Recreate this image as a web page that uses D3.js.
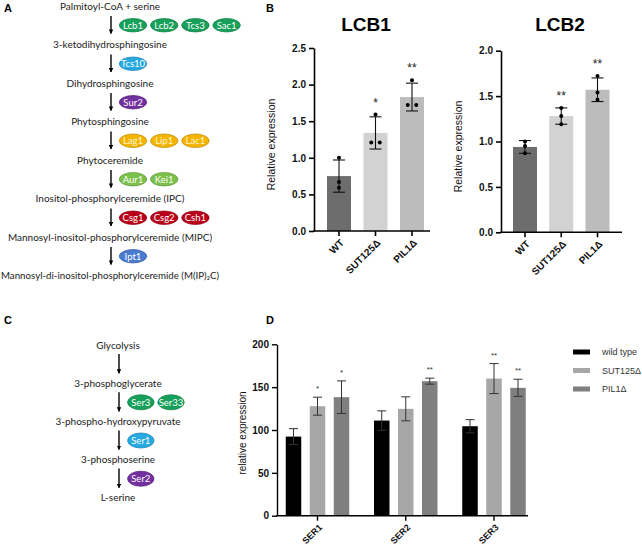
<!DOCTYPE html>
<html><head><meta charset="utf-8">
<script src="https://cdn.jsdelivr.net/npm/d3@7"></script>
<style>
body{margin:0;background:#fff;}
svg{display:block;}
</style></head>
<body>
<svg id="c" width="642" height="549"></svg>
<script>
// ---------- DATA ----------
// Panel A: sphingolipid pathway
const pathA = ["Palmitoyl-CoA + serine","3-ketodihydrosphingosine","Dihydrosphingosine","Phytosphingosine","Phytoceremide","Inositol-phosphorylceremide (IPC)","Mannosyl-inositol-phosphorylceremide (MIPC)","Mannosyl-di-inositol-phosphorylceremide (M(IP)₂C)"];
const enzymesA = [["Lcb1","Lcb2","Tcs3","Sac1"],["Tcs10"],["Sur2"],["Lag1","Lip1","Lac1"],["Aur1","Kei1"],["Csg1","Csg2","Csh1"],["Ipt1"]];
// Panel C: serine pathway
const pathC = ["Glycolysis","3-phosphoglycerate","3-phospho-hydroxypyruvate","3-phosphoserine","L-serine"];
const enzymesC = [[],["Ser3","Ser33"],["Ser1"],["Ser2"]];
// Panel B
const strains = ["WT","SUT125Δ","PIL1Δ"];
const lcb1Mean = [0.75, 1.34, 1.83];
const lcb1Sd = [0.22, 0.22, 0.19];
const lcb1Points = [[1.00,0.67,0.59],[1.59,1.21,1.21],[2.06,1.72,1.72]];
const lcb1Sig = ["","*","**"];
const lcb1Ticks = [0,0.5,1.0,1.5,2.0,2.5];
const lcb2Mean = [0.94, 1.28, 1.57];
const lcb2Sd = [0.07, 0.09, 0.13];
const lcb2Points = [[1.00,0.95,0.87],[1.37,1.28,1.19],[1.72,1.54,1.46]];
const lcb2Sig = ["","**","**"];
const lcb2Ticks = [0,0.5,1.0,1.5,2.0];
// Panel D
const genes = ["SER1","SER2","SER3"];
const seriesD = ["wild type","SUT125Δ","PIL1Δ"];
const wtMean = [92.3, 111.0, 104.4];
const wtSd = [9.3, 11.3, 7.7];
const sutMean = [127.8, 124.7, 160.0];
const sutSd = [10.5, 14.0, 17.5];
const pilMean = [138.3, 157.0, 149.2];
const pilSd = [19.0, 3.5, 10.0];
const sigD = [["","*","*"],["","","**"],["","**","**"]];
const dTicks = [0,50,100,150,200];

// ---------- STYLES ----------
const enzColor = {
  Lcb1:"#17a05a",Lcb2:"#17a05a",Tcs3:"#17a05a",Sac1:"#17a05a",Ser3:"#17a05a",Ser33:"#17a05a",
  Tcs10:"#27a9e1",Ser1:"#27a9e1",Sur2:"#7230a0",Ser2:"#7230a0",
  Lag1:"#f4b400",Lip1:"#f4b400",Lac1:"#f4b400",Aur1:"#7cc04a",Kei1:"#7cc04a",
  Csg1:"#b80018",Csg2:"#b80018",Csh1:"#b80018",Ipt1:"#4a7bcf"};
const bColors = ["#6d6d6d","#d2d2d2","#bcbcbc"];
const dColors = ["#000000","#a7a7a7","#7f7f7f"];
const AR = "'Liberation Sans', Arial, sans-serif";
const CAL = "Lato, 'Open Sans', sans-serif";

const svg = d3.select("#c");
svg.append("rect").attr("width",642).attr("height",549).attr("fill","#fff");

svg.append("defs").append("marker").attr("id","ah").attr("viewBox","0 0 10 10")
  .attr("refX",9).attr("refY",5).attr("markerWidth",4.5).attr("markerHeight",4.5)
  .attr("orient","auto").attr("markerUnits","userSpaceOnUse")
  .append("path").attr("d","M0,0L10,5L0,10z").attr("fill","#000");

// panel letters
[["A",4,12],["B",266,12],["C",4,324],["D",266,324]].forEach(([t,x,y])=>{
  svg.append("text").attr("x",x).attr("y",y).text(t)
    .attr("font-family",AR).attr("font-weight","bold").attr("font-size",11);
});

// ---------- pathway drawing ----------
function pathway(steps, enz, cx, y0, dy, ex0, rx, ry, estep, fs, arrowGap1, arrowGap2){
  const g = svg.append("g");
  const ys = d3.range(steps.length).map(i=>y0+i*dy);
  steps.forEach((s,i)=>{
    const t = g.append("text").attr("x",cx).attr("y",ys[i]).attr("dy","0.35em")
      .attr("text-anchor","middle").attr("font-family",CAL).attr("font-size",fs)
      .attr("fill","#222").text(s);
    const maxW = 2*cx - 2;
    if(t.node().getComputedTextLength() > maxW){
      t.attr("textLength",maxW).attr("lengthAdjust","spacingAndGlyphs");
    }
    if(i<steps.length-1){
      g.append("line").attr("x1",cx+1).attr("x2",cx+1)
        .attr("y1",ys[i]+arrowGap1).attr("y2",ys[i+1]-arrowGap2)
        .attr("stroke","#000").attr("stroke-width",1.4).attr("marker-end","url(#ah)");
      const ym = (ys[i]+ys[i+1])/2;
      (enz[i]||[]).forEach((e,j)=>{
        const ex = ex0 + j*estep;
        const col = enzColor[e];
        g.append("ellipse").attr("cx",ex).attr("cy",ym).attr("rx",rx).attr("ry",ry)
          .attr("fill",col).attr("stroke",d3.color(col).darker(0.6)).attr("stroke-width",0.8);
        g.append("text").attr("x",ex).attr("y",ym).attr("dy","0.35em").attr("text-anchor","middle")
          .attr("font-family",CAL).attr("font-size",fs-0.5).attr("fill", col==="#f4b400"?"#fff6d0":"#fff").text(e);
      });
    }
  });
}
pathway(pathA, enzymesA, 110, 6, 38.5, 133, 13.7, 6.7, 31.2, 10, 10, 11);
pathway(pathC, enzymesC, 118, 345, 38.2, 140.8, 13.2, 7.5, 30.2, 10, 9, 10);

// ---------- Panel B ----------
function barPanel(title, titleX, means, sds, pts, sig, ticks, x0, x1, c0, c1, yb, yt, ylabX){
  const g = svg.append("g");
  const x = d3.scalePoint().domain(strains).range([c0,c1]);
  const y = d3.scaleLinear().domain([0, ticks[ticks.length-1]]).range([yb,yt]);
  const bw = 24;
  g.append("text").attr("x",titleX).attr("y",31).attr("text-anchor","middle")
    .attr("font-family",AR).attr("font-weight","bold").attr("font-size",19).text(title);
  g.selectAll("rect.bar").data(strains).join("rect")
    .attr("x",d=>x(d)-bw/2).attr("width",bw)
    .attr("y",(d,i)=>y(means[i])).attr("height",(d,i)=>yb-y(means[i]))
    .attr("fill",(d,i)=>bColors[i]);
  strains.forEach((s,i)=>{
    const cx = x(s), hi=y(means[i]+sds[i]), lo=y(means[i]-sds[i]);
    g.append("line").attr("x1",cx).attr("x2",cx).attr("y1",hi).attr("y2",lo).attr("stroke","#111").attr("stroke-width",1.1);
    [hi,lo].forEach(v=>g.append("line").attr("x1",cx-6).attr("x2",cx+6).attr("y1",v).attr("y2",v).attr("stroke","#111").attr("stroke-width",1.1));
    const p = pts[i];
    p.forEach((v,k)=>{
      const dups = p.map((w,m)=>[w,m]).filter(([w])=>Math.abs(w-v)<0.005);
      let off = 0;
      if(dups.length>1){ const idx = dups.findIndex(([w,m])=>m===k); off = (idx-(dups.length-1)/2)*8.5; }
      g.append("circle").attr("cx",cx+off).attr("cy",y(v)).attr("r",2).attr("fill","#000");
    });
    if(sig[i]){
      const top = Math.min(hi, y(d3.max(p)));
      g.append("text").attr("x",cx).attr("y",top-8).attr("text-anchor","middle")
        .attr("font-family",AR).attr("font-size",12).attr("fill","#222").text(sig[i]);
    }
  });
  const ya = g.append("g").attr("transform",`translate(${x0},0)`)
    .call(d3.axisLeft(y).tickValues(ticks).tickFormat(d3.format(".1f")).tickSize(5).tickSizeOuter(0).tickPadding(3));
  ya.select(".domain").attr("stroke-width",1.6);
  ya.selectAll(".tick line").attr("stroke-width",1.6);
  ya.selectAll("text").attr("font-family",AR).attr("font-weight","bold").attr("font-size",10).attr("fill","#111");
  g.append("line").attr("x1",x0-0.8).attr("x2",x1).attr("y1",yb).attr("y2",yb).attr("stroke","#000").attr("stroke-width",1.6);
  strains.forEach(s=>{
    g.append("line").attr("x1",x(s)).attr("x2",x(s)).attr("y1",yb).attr("y2",yb+5).attr("stroke","#000").attr("stroke-width",1.6);
    g.append("text").attr("transform",`translate(${x(s)+3},${yb+10}) rotate(-45)`).attr("text-anchor","end")
      .attr("dy","0.35em").attr("font-family",AR).attr("font-weight","bold").attr("font-size",10).attr("fill","#111").text(s);
  });
  g.append("text").attr("transform",`translate(${ylabX},${(yb+yt)/2+5}) rotate(-90)`).attr("text-anchor","middle")
    .attr("dy","0.35em").attr("font-family",AR).attr("font-size",10.5).attr("fill","#111").text("Relative expression");
}
barPanel("LCB1", 366, lcb1Mean, lcb1Sd, lcb1Points, lcb1Sig, lcb1Ticks, 314, 430, 339, 412, 231, 48, 271);
barPanel("LCB2", 560, lcb2Mean, lcb2Sd, lcb2Points, lcb2Sig, lcb2Ticks, 501, 622, 525, 597.5, 232.3, 50.7, 458);

// ---------- Panel D ----------
(function(){
  const g = svg.append("g");
  const yb = 515.7, yt = 344.3, x0 = 277, x1 = 528;
  const y = d3.scaleLinear().domain([0,200]).range([yb,yt]);
  const xg = d3.scalePoint().domain(genes).range([317.5, 494]);
  const xs = d3.scalePoint().domain(seriesD).range([-24, 24]);
  const bw = 15.5;
  const means = [wtMean, sutMean, pilMean], sds = [wtSd, sutSd, pilSd];
  genes.forEach((gn,gi)=>{
    seriesD.forEach((s,si)=>{
      const cx = xg(gn)+xs(s), m = means[si][gi], sd = sds[si][gi];
      g.append("rect").attr("x",cx-bw/2).attr("width",bw).attr("y",y(m)).attr("height",yb-y(m)).attr("fill",dColors[si]);
      const hi=y(m+sd), lo=y(m-sd);
      g.append("line").attr("x1",cx).attr("x2",cx).attr("y1",hi).attr("y2",lo).attr("stroke","#333").attr("stroke-width",1);
      [hi,lo].forEach(v=>g.append("line").attr("x1",cx-4.5).attr("x2",cx+4.5).attr("y1",v).attr("y2",v).attr("stroke","#333").attr("stroke-width",1));
      const sg = sigD[gi][si];
      if(sg){
        g.append("text").attr("x",cx).attr("y",hi-6).attr("text-anchor","middle")
          .attr("font-family",AR).attr("font-size",8).attr("fill","#333").text(sg);
      }
    });
  });
  const ya = g.append("g").attr("transform",`translate(${x0},0)`)
    .call(d3.axisLeft(y).tickValues(dTicks).tickSize(5).tickSizeOuter(0).tickPadding(3));
  ya.select(".domain").attr("stroke-width",1.4);
  ya.selectAll(".tick line").attr("stroke-width",1.4);
  ya.selectAll("text").attr("font-family",AR).attr("font-weight","bold").attr("font-size",10).attr("fill","#111");
  g.append("line").attr("x1",x0-0.7).attr("x2",x1).attr("y1",yb).attr("y2",yb).attr("stroke","#000").attr("stroke-width",1.4);
  genes.forEach(gn=>{
    g.append("line").attr("x1",xg(gn)).attr("x2",xg(gn)).attr("y1",yb).attr("y2",yb+5).attr("stroke","#000").attr("stroke-width",1.4);
    g.append("text").attr("transform",`translate(${xg(gn)+3},${yb+10}) rotate(-45)`).attr("text-anchor","end")
      .attr("dy","0.35em").attr("font-family",AR).attr("font-weight","bold").attr("font-size",9).attr("fill","#111").text(gn);
  });
  g.append("text").attr("transform",`translate(242,433) rotate(-90)`).attr("text-anchor","middle")
    .attr("dy","0.35em").attr("font-family",AR).attr("font-size",10).attr("fill","#111").text("relative expression");
  seriesD.forEach((s,i)=>{
    const ly = 352 + i*18.5;
    g.append("rect").attr("x",573).attr("y",ly-2.5).attr("width",17).attr("height",5).attr("fill",dColors[i]);
    g.append("text").attr("x",602).attr("y",ly).attr("dy","0.35em").attr("font-family",AR).attr("font-size",9).attr("fill","#333").text(s);
  });
})();
</script>
</body></html>
